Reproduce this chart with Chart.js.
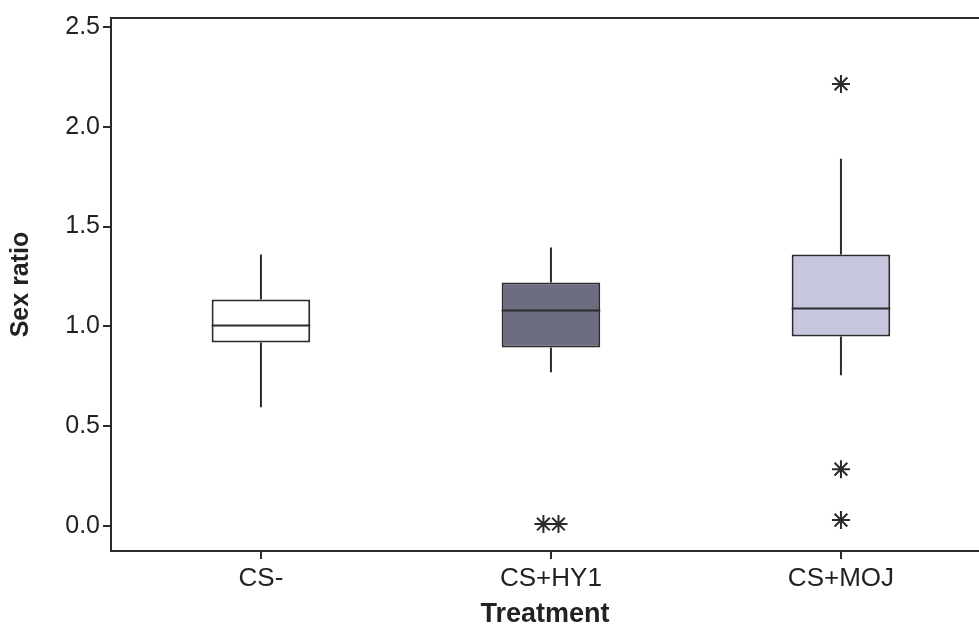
<!DOCTYPE html>
<html>
<head>
<meta charset="utf-8">
<script src="https://cdn.jsdelivr.net/npm/chart.js@4/dist/chart.umd.min.js"></script>
<style>
  html, body { margin: 0; padding: 0; background: #fff; overflow: hidden; }
  #wrap { position: relative; width: 979px; height: 629px; overflow: hidden; }
  #box { display: block; }
</style>
</head>
<body>
<div id="wrap"><canvas id="box"></canvas></div>
<script>
// data
const categories = ['CS-', 'CS+HY1', 'CS+MOJ'];
const whiskerLow = [0.595, 0.77, 0.755];
const q1 = [0.92, 0.895, 0.95];
const median = [1.005, 1.08, 1.09];
const q3 = [1.135, 1.22, 1.36];
const whiskerHigh = [1.36, 1.395, 1.84];
const outlierGroup = [1, 1, 2, 2, 2];      // index into categories
const outlierValue = [0.01, 0.01, 2.215, 0.285, 0.03];
const yTicks = [0, 0.5, 1, 1.5, 2, 2.5];
const boxColors = ['#ffffff', '#6d6d82', '#c6c6de'];

const boxWidth = 0.34;   // in category units
const ink = '#2b2b2b';
const font = "'Liberation Sans', Arial, sans-serif";

const boxes = categories.map((c, i) => ({ x: i + 1, y: [q1[i], q3[i]] }));

const medians = [];
categories.forEach((c, i) => {
    medians.push({ x: i + 1 - boxWidth / 2, y: median[i] });
    medians.push({ x: i + 1 + boxWidth / 2, y: median[i] });
    medians.push({ x: i + 1, y: null });
});

const whiskers = [];
categories.forEach((c, i) => {
    whiskers.push({ x: i + 1, y: q3[i] }, { x: i + 1, y: whiskerHigh[i] }, { x: i + 1, y: null });
    whiskers.push({ x: i + 1, y: q1[i] }, { x: i + 1, y: whiskerLow[i] }, { x: i + 1, y: null });
});

// equal outliers sit side by side, like minitab does
const outliers = outlierValue.map((v, k) => {
    const same = outlierValue.filter((w, j) => w === v && outlierGroup[j] === outlierGroup[k]);
    const pos = outlierValue.slice(0, k).filter((w, j) => w === v && outlierGroup[j] === outlierGroup[k]).length;
    const shift = same.length > 1 ? (pos - (same.length - 1) / 2) * 0.052 : 0;
    return { x: outlierGroup[k] + 1 + shift, y: v };
});

new Chart(document.getElementById('box'), {
    type: 'bar',
    data: {
        datasets: [
            {
                type: 'bar',
                data: boxes,
                backgroundColor: boxColors,
                borderColor: ink,
                borderWidth: 2,
                borderSkipped: false,
                categoryPercentage: boxWidth,
                barPercentage: 1,
                order: 3
            },
            {
                type: 'line',
                data: whiskers,
                borderColor: ink,
                borderWidth: 2,
                pointRadius: 0,
                spanGaps: false,
                order: 2
            },
            {
                type: 'line',
                data: medians,
                borderColor: ink,
                borderWidth: 2,
                pointRadius: 0,
                spanGaps: false,
                order: 1
            },
            {
                type: 'scatter',
                data: outliers,
                pointStyle: 'star',
                pointRadius: 9,
                borderColor: ink,
                borderWidth: 2,
                order: 0
            }
        ]
    },
    options: {
        responsive: true,
        maintainAspectRatio: false,
        animation: false,
        layout: { padding: 0, autoPadding: false },   // stars would otherwise push the right edge in
        plugins: { legend: { display: false }, tooltip: { enabled: false } },
        scales: {
            x: {
                type: 'linear',
                position: 'bottom',
                min: 0.483,
                max: 3.476,
                offset: false,
                afterBuildTicks: s => { s.ticks = categories.map((c, i) => ({ value: i + 1 })); },
                afterFit: s => { s.height = 78; },
                ticks: {
                    callback: v => categories[v - 1],
                    color: '#222',
                    font: { family: font, size: 26 },
                    padding: 4,
                    maxRotation: 0
                },
                grid: { drawOnChartArea: false, offset: false, tickLength: 8, color: ink, lineWidth: 2 },
                border: { display: true, color: ink, width: 2 },
                title: {
                    display: true,
                    text: 'Treatment',
                    color: '#222',
                    font: { family: font, size: 27, weight: 'bold', lineHeight: 1 },
                    padding: { top: 0, bottom: 1 }
                }
            },
            xTop: {
                type: 'linear',
                position: 'top',
                ticks: { display: false },
                grid: { display: false, drawTicks: false },
                border: { display: true, color: ink, width: 2 },
                afterFit: s => { s.height = 17; }
            },
            y: {
                type: 'linear',
                min: -0.125,
                max: 2.545,
                afterBuildTicks: s => { s.ticks = yTicks.map(v => ({ value: v })); },
                afterFit: s => { s.width = 111; },
                ticks: {
                    callback: v => v.toFixed(1),
                    color: '#222',
                    font: { family: font, size: 25 },
                    padding: 3
                },
                grid: { drawOnChartArea: false, tickLength: 8, color: ink, lineWidth: 2 },
                border: { display: true, color: ink, width: 2 },
                title: {
                    display: true,
                    text: 'Sex ratio',
                    color: '#222',
                    font: { family: font, size: 25, weight: 'bold' },
                    padding: { top: 6, bottom: 0 }
                }
            }
        }
    }
});
</script>
</body>
</html>
